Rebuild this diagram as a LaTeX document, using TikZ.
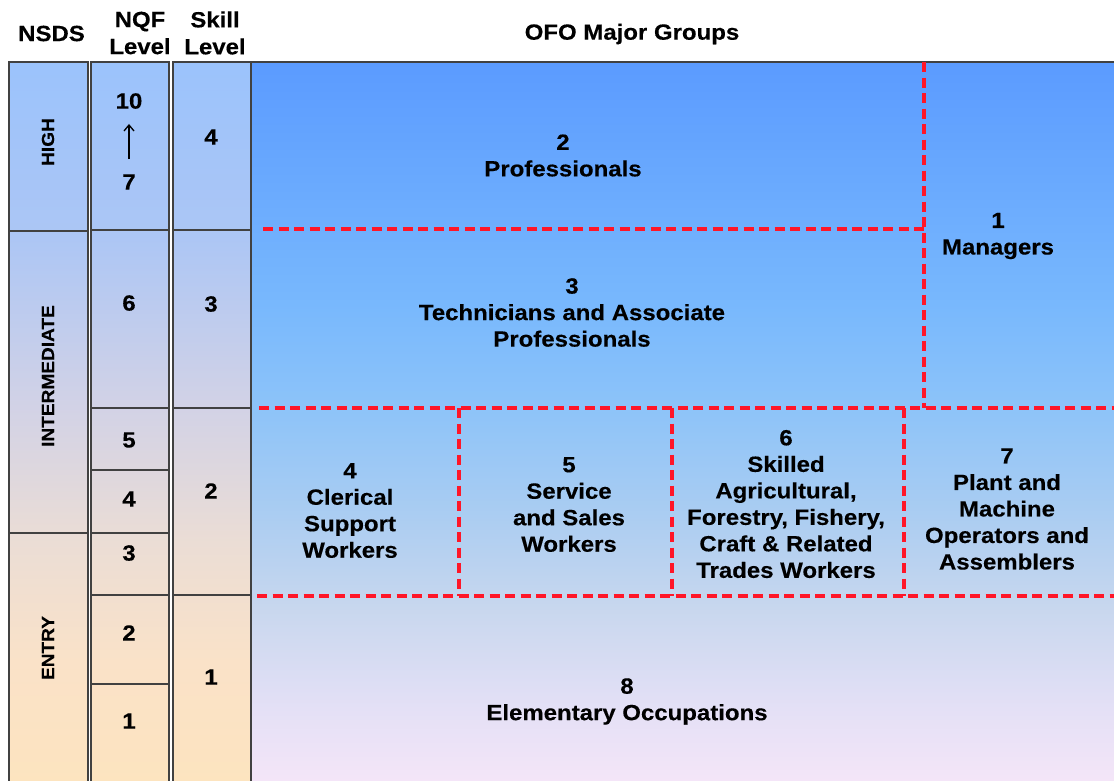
\documentclass[tikz,border=0pt]{standalone}
\usepackage{fontspec}
\setmainfont{Liberation Sans}[FakeStretch=1.09, BoldFeatures={FakeBold=0.3}]
\usetikzlibrary{arrows.meta}

% colours
\definecolor{boxgray}{RGB}{65,65,65}
\definecolor{cutred}{RGB}{255,22,40}
\definecolor{mA}{RGB}{246,230,248}
\definecolor{mB}{RGB}{228,224,246}
\definecolor{mC}{RGB}{200,215,238}
\definecolor{mD}{RGB}{168,204,242}
\definecolor{mE}{RGB}{140,195,249}
\definecolor{mF}{RGB}{120,184,253}
\definecolor{mG}{RGB}{91,155,255}
\definecolor{cA}{RGB}{253,228,190}
\definecolor{cB}{RGB}{250,226,200}
\definecolor{cC}{RGB}{235,221,213}
\definecolor{cD}{RGB}{210,210,230}
\definecolor{cE}{RGB}{172,198,245}
\definecolor{cF}{RGB}{155,195,252}

% vertical shadings: the band 25bp..75bp spans the shaded area
\pgfdeclareverticalshading{ofoshade}{100bp}{%
  color(0bp)=(mA); color(25bp)=(mA); color(30.6bp)=(mB); color(37.5bp)=(mC);
  color(44.5bp)=(mD); color(51.5bp)=(mE); color(58.4bp)=(mF);
  color(75bp)=(mG); color(100bp)=(mG)}
\pgfdeclareverticalshading{colshade}{100bp}{%
  color(0bp)=(cA); color(25bp)=(cA); color(34.1bp)=(cB); color(42.2bp)=(cC);
  color(51.5bp)=(cD); color(63.2bp)=(cE); color(75bp)=(cF); color(100bp)=(cF)}

\tikzset{
  colbox/.style={shading=colshade, draw=boxgray, line width=1.8pt},
  divider/.style={draw=boxgray, line width=1.6pt},
  cutline/.style={draw=cutred, line width=3.2pt, dash pattern=on 10pt off 5.5pt},
  grp/.style={font=\fontsize{22}{26.5}\selectfont\bfseries, align=center, inner sep=0pt},
  hdr/.style={font=\fontsize{22}{27}\selectfont\bfseries, align=center, inner sep=0pt},
  num/.style={font=\fontsize{22}{26}\selectfont\bfseries, inner sep=0pt},
  band/.style={font=\fontsize{17.5}{20}\selectfont\bfseries, rotate=90, inner sep=0pt},
}

\begin{document}
\begin{tikzpicture}[x=1pt, y=-1pt]
\useasboundingbox (0,0) rectangle (1114,780);
\fill[white] (0,0) rectangle (1114,780);
\begin{scope}
\clip (0,0) rectangle (1114,780);

% occupational groups area
\shade[shading=ofoshade] (251,62) rectangle (1114,790);
\draw[divider] (251,62) -- (1114,62);

% NSDS column
\shadedraw[colbox] (9,62) rectangle (88,795);
\draw[divider] (9,231) -- (88,231);
\draw[divider] (9,533) -- (88,533);

% NQF column
\shadedraw[colbox] (91,62) rectangle (169,795);
\foreach \yy in {230,408,470,533,595,684}
  \draw[divider] (91,\yy) -- (169,\yy);

% skill level column
\shadedraw[colbox] (173,62) rectangle (251,795);
\foreach \yy in {230,408,595}
  \draw[divider] (173,\yy) -- (251,\yy);

% red dashed borders between major groups
\draw[cutline] (263,229) -- (924,229);
\draw[cutline] (924,62) -- (924,408);
\draw[cutline] (259,408) -- (1114,408);
\draw[cutline] (257,596) -- (1114,596);
\draw[cutline] (459,408) -- (459,596);
\draw[cutline] (672,408) -- (672,596);
\draw[cutline] (904,408) -- (904,596);
\end{scope}

% column headings
\node[hdr] (hNSDS) at (51.5,33.5) {NSDS};
\node[hdr] (hNQF) at (140,33) {NQF\\Level};
\node[hdr] (hSkill) at (215,33) {Skill\\Level};
\node[hdr] (hOFO) at (632,34) {OFO Major Groups};

% NSDS bands
\node[band] (bHigh) at (48,142) {HIGH};
\node[band] (bInter) at (48,376) {INTERMEDIATE};
\node[band] (bEntry) at (48,648) {ENTRY};

% NQF levels
\node[num] (q10) at (129,101) {10};
\node[num] (q7) at (129,182) {7};
\draw[line width=1.3pt, -{Straight Barb[length=6pt,width=10pt]},
      shorten <=15pt, shorten >=15pt] (q7) -- (q10);
\node[num] (q6) at (129,303) {6};
\node[num] (q5) at (129,440) {5};
\node[num] (q4) at (129,499) {4};
\node[num] (q3) at (129,553) {3};
\node[num] (q2) at (129,633) {2};
\node[num] (q1) at (129,721) {1};

% skill levels
\node[num] (s4) at (211,137) {4};
\node[num] (s3) at (211,304) {3};
\node[num] (s2) at (211,491) {2};
\node[num] (s1) at (211,677) {1};

% major groups
\node[grp] (g1) at (998,236) {1\\Managers};
\node[grp] (g2) at (563,155.5) {2\\Professionals};
\node[grp] (g3) at (572,312.5) {3\\Technicians and Associate\\Professionals};
\node[grp] (g4) at (350,510.5) {4\\Clerical\\Support\\Workers};
\node[grp] (g5) at (569,504.5) {5\\Service\\and Sales\\Workers};
\node[grp] (g6) at (786,504) {6\\Skilled\\Agricultural,\\Forestry, Fishery,\\Craft \& Related\\Trades Workers};
\node[grp] (g7) at (1007,509) {7\\Plant and\\Machine\\Operators and\\Assemblers};
\node[grp] (g8) at (627,701.5) {8\\Elementary Occupations};
\end{tikzpicture}
\end{document}
